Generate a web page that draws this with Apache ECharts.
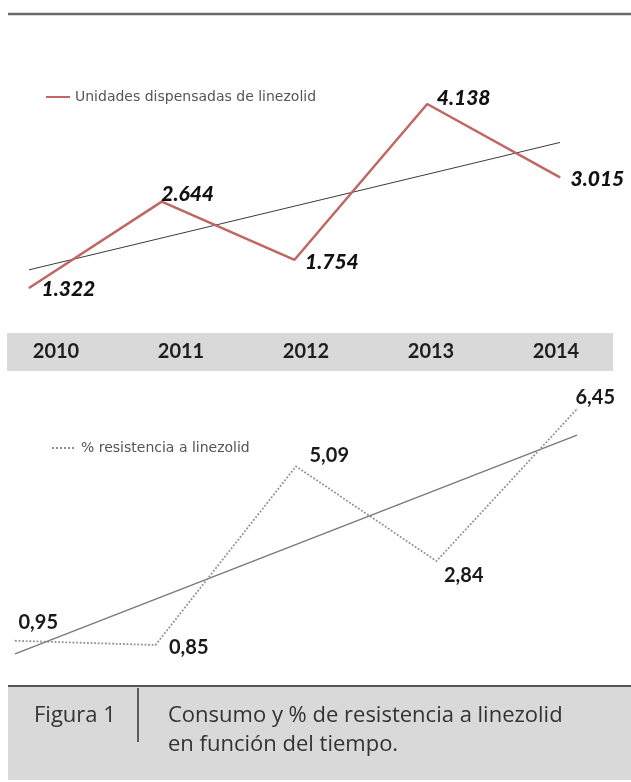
<!DOCTYPE html>
<html>
<head>
<meta charset="utf-8">
<script src="https://cdn.jsdelivr.net/npm/echarts@6/dist/echarts.min.js"></script>
<style>
html,body{margin:0;padding:0;background:#fff;}
#chart{width:631px;height:782px;}
</style>
</head>
<body>
<div id="chart"></div>
<script>
// ---- data ----
const years = ['2010', '2011', '2012', '2013', '2014'];
const unitsDispensed = [1322, 2644, 1754, 4138, 3015];
const unitsTrend = [1600, null, null, null, 3550];
const resistancePct = [0.95, 0.85, 5.09, 2.84, 6.45];
const resistanceTrend = [0.64, null, null, null, 5.83];
const unitsName = 'Unidades dispensadas de linezolid';
const resistName = '% resistencia a linezolid';
const captionLabel = 'Figura 1';
const captionLines = ['Consumo y % de resistencia a linezolid', 'en función del tiempo.'];

// ---- label placement (style) ----
const unitsLabelOffsets = [[7, 1], [-6, -7], [5, 2], [4, -6], [5, 2]];
const resistLabelOffsets = [[-2, -18], [8, 3], [8, -11], [2, 14], [-7, -11]];

const fmtThousands = v => String(v).replace(/\B(?=(\d{3})+(?!\d))/g, '.');
const fmtComma = v => String(v).replace('.', ',');

const chart = echarts.init(document.getElementById('chart'), null, {renderer: 'canvas'});

const topLabel = {fontFamily: 'Lato', fontWeight: 900, fontStyle: 'italic', fontSize: 21, color: '#111', opacity: 1};
const botLabel = {fontFamily: 'Lato', fontWeight: 'bold', fontSize: 20, color: '#1a1a1a', opacity: 1};

chart.setOption({
  animation: false,
  backgroundColor: '#fff',
  grid: [
    {left: 29, right: 71, top: 47.7, bottom: 407.6},
    {left: 15, right: 54, top: 385.8, bottom: 101.2},
    {left: 56, right: 75, top: 333, height: 38}
  ],
  xAxis: [
    {gridIndex: 0, type: 'category', data: years, boundaryGap: false, show: false},
    {gridIndex: 1, type: 'category', data: years, boundaryGap: false, show: false},
    {gridIndex: 2, type: 'category', data: years, boundaryGap: false, position: 'bottom', offset: -19,
     axisLine: {show: false}, axisTick: {show: false}, splitLine: {show: false},
     axisLabel: {margin: 0, verticalAlign: 'middle', fontFamily: 'Lato', fontWeight: 'bold', fontSize: 20, color: '#1e1e1e'}}
  ],
  yAxis: [
    {gridIndex: 0, type: 'value', min: 0, max: 5000, show: false},
    {gridIndex: 1, type: 'value', min: 0, max: 7, show: false},
    {gridIndex: 2, type: 'value', min: 0, max: 1, show: false}
  ],
  legend: [
    {data: [unitsName], left: 40, top: 85, itemWidth: 24, itemHeight: 14, itemGap: 8,
     itemStyle: {opacity: 0},
     textStyle: {fontFamily: 'DejaVu Sans', fontSize: 14, color: '#555'}},
    {data: [resistName], left: 46, top: 436, itemWidth: 24, itemHeight: 14, itemGap: 8,
     itemStyle: {opacity: 0},
     textStyle: {fontFamily: 'DejaVu Sans', fontSize: 14, color: '#555'}}
  ],
  graphic: [
    {type: 'line', shape: {x1: 8, y1: 14, x2: 631, y2: 14}, style: {stroke: '#6b6b6b', lineWidth: 2.5}, z: 0},
    {type: 'rect', shape: {x: 7, y: 333, width: 606, height: 38}, style: {fill: '#d9d9d9'}, z: -1},
    {type: 'rect', shape: {x: 8, y: 686, width: 623, height: 94}, style: {fill: '#d9d9d9'}, z: -1},
    {type: 'line', shape: {x1: 8, y1: 686, x2: 631, y2: 686}, style: {stroke: '#555', lineWidth: 2}, z: 0},
    {type: 'line', shape: {x1: 138, y1: 688, x2: 138, y2: 742}, style: {stroke: '#333', lineWidth: 1.5}, z: 0},
    {type: 'text', left: 34, top: 705, style: {text: captionLabel, fontFamily: 'Open Sans', fontSize: 22, fill: '#333'}},
    {type: 'text', left: 168, top: 705, style: {text: captionLines[0], fontFamily: 'Open Sans', fontSize: 22, fill: '#333'}},
    {type: 'text', left: 168, top: 734, style: {text: captionLines[1], fontFamily: 'Open Sans', fontSize: 22, fill: '#333'}}
  ],
  series: [
    {name: unitsName, type: 'line', xAxisIndex: 0, yAxisIndex: 0, symbol: 'circle', symbolSize: 1, showSymbol: true, z: 3,
     lineStyle: {color: '#c06663', width: 2.5}, itemStyle: {color: '#c06663'},
     data: unitsDispensed.map((v, i) => ({value: v, label: {offset: unitsLabelOffsets[i]}})),
     label: Object.assign({show: true, position: 'right', formatter: p => fmtThousands(p.value)}, topLabel)},
    {name: 'tendencia1', type: 'line', xAxisIndex: 0, yAxisIndex: 0, symbol: 'none', connectNulls: true, z: 2,
     lineStyle: {color: '#3a3a3a', width: 1}, data: unitsTrend},
    {name: resistName, type: 'line', xAxisIndex: 1, yAxisIndex: 1, symbol: 'circle', symbolSize: 1, showSymbol: true, z: 3,
     lineStyle: {color: '#8a929c', width: 1.8, type: 'dotted'}, itemStyle: {color: '#8a929c'},
     data: resistancePct.map((v, i) => ({value: v, label: {offset: resistLabelOffsets[i]}})),
     label: Object.assign({show: true, position: 'right', formatter: p => fmtComma(p.value)}, botLabel)},
    {name: 'tendencia2', type: 'line', xAxisIndex: 1, yAxisIndex: 1, symbol: 'none', connectNulls: true, z: 2,
     lineStyle: {color: '#7a7a7a', width: 1.5}, data: resistanceTrend}
  ]
});
</script>
</body>
</html>
